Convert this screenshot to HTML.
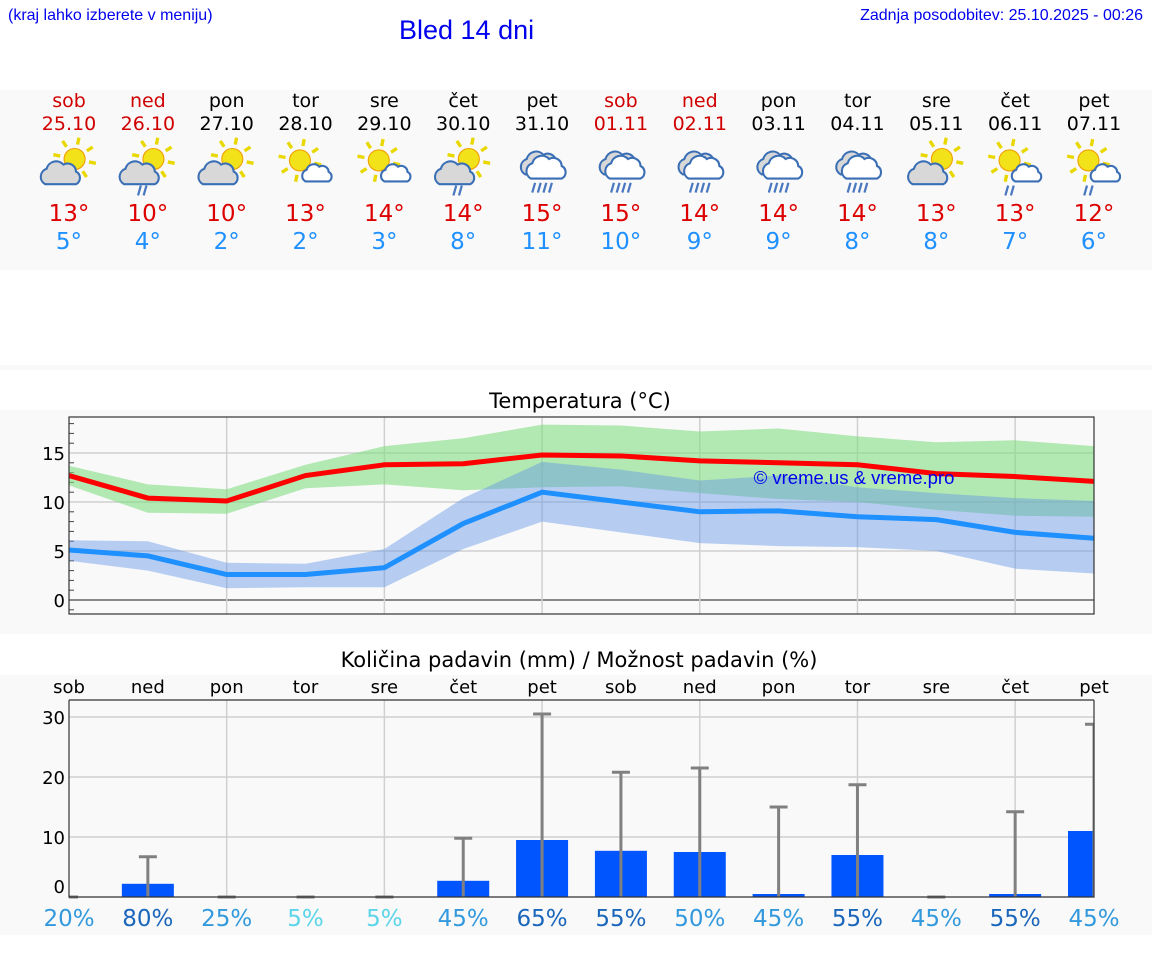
<!DOCTYPE html>
<html><head><meta charset="utf-8">
<style>
body{margin:0;width:1152px;height:975px;background:#fff;font-family:"DejaVu Sans","Liberation Sans",sans-serif;overflow:hidden;position:relative}
.abs{position:absolute}
</style></head>
<body>
<div class="abs" style="left:8px;top:7px;font:16px 'Liberation Sans',sans-serif;color:#0000ee">(kraj lahko izberete v meniju)</div>
<div class="abs" style="left:399px;top:15px;font:27px 'Liberation Sans',sans-serif;color:#0000ee">Bled 14 dni</div>
<div class="abs" style="right:9px;top:7px;font:16px 'Liberation Sans',sans-serif;color:#0000ee">Zadnja posodobitev: 25.10.2025 - 00:26</div>
<div class="abs" style="left:0;top:90px;width:1152px;height:180px;background:#f9f9f9"></div>
<div class="abs" style="left:0;top:365px;width:1152px;height:5px;background:#f9f9f9"></div>
<div class="abs" style="left:0;top:410px;width:1152px;height:224px;background:#f9f9f9"></div>
<div class="abs" style="left:0;top:675px;width:1152px;height:260px;background:#f9f9f9"></div>
<svg id="svg" class="abs" style="left:0;top:0" width="1152" height="975"></svg>
<script>
const days=['sob','ned','pon','tor','sre','čet','pet','sob','ned','pon','tor','sre','čet','pet'];
const dates=['25.10','26.10','27.10','28.10','29.10','30.10','31.10','01.11','02.11','03.11','04.11','05.11','06.11','07.11'];
const weekend=[1,1,0,0,0,0,0,1,1,0,0,0,0,0];
const icons=['sc','scr','sc','ss','ss','scr','rain','rain','rain','rain','rain','sc','ssr','ssr'];
const maxT=[13,10,10,13,14,14,15,15,14,14,14,13,13,12];
const minT=[5,4,2,2,3,8,11,10,9,9,8,8,7,6];
const maxLine=[12.7,10.4,10.1,12.7,13.8,13.9,14.8,14.7,14.2,14.0,13.8,12.9,12.6,12.1];
const maxHi=[13.7,11.8,11.3,13.8,15.7,16.5,17.9,17.8,17.2,17.5,16.7,16.1,16.3,15.7];
const maxLo=[11.7,8.9,8.8,11.4,11.8,11.2,11.5,11.6,10.9,10.3,10.0,9.2,8.6,8.5];
const minLine=[5.1,4.5,2.6,2.6,3.3,7.8,11.0,10.0,9.0,9.1,8.5,8.2,6.9,6.3];
const minHi=[6.1,6.0,3.8,3.7,5.2,10.4,14.1,13.3,12.2,12.7,11.5,10.9,10.4,10.1];
const minLo=[4.0,3.0,1.2,1.3,1.3,5.2,8.0,6.9,5.8,5.5,5.4,5.0,3.2,2.7];
const tempTicks=[0,5,10,15];
const precip=[0,2.2,0,0,0,2.7,9.5,7.7,7.5,0.5,7.0,0,0.5,11];
const precipHi=[0,6.7,0,0,0,9.8,30.5,20.8,21.5,15,18.7,0,14.2,28.8];
const chance=[20,80,25,5,5,45,65,55,50,45,55,45,55,45];
const precipTicks=[0,10,20,30];

const NS='http://www.w3.org/2000/svg';
const svg=document.getElementById('svg');
function mk(tag,attrs,parent){const e=document.createElementNS(NS,tag);for(const k in attrs)e.setAttribute(k,attrs[k]);(parent||svg).appendChild(e);return e;}
const X0=69,X1=1094;
const xi=i=>X0+i*(X1-X0)/13;
const ty=v=>600-v*9.8;
const py=v=>897-v*6;

days.forEach((d,i)=>{
  const c=weekend[i]?'#d00000':'#000';
  let t=mk('text',{x:xi(i),y:107,'text-anchor':'middle','font-size':19,fill:c});t.textContent=d;
  
  t=mk('text',{x:xi(i),y:130,'text-anchor':'middle','font-size':19,fill:c});t.textContent=dates[i];
  
  t=mk('text',{x:xi(i),y:221,'text-anchor':'middle','font-size':23,fill:'#dd0000'});t.textContent=maxT[i]+'°';
  
  t=mk('text',{x:xi(i),y:249,'text-anchor':'middle','font-size':23,fill:'#1e90ff'});t.textContent=minT[i]+'°';
  
  const g=mk('g',{transform:`translate(${xi(i)},166) scale(1.4)`});
  
  drawIcon(g,icons[i]);
});
function sun(g,cx,cy,r){
  for(let k=0;k<8;k++){const a=k*Math.PI/4+0.2;mk('line',{x1:cx+Math.cos(a)*(r+3),y1:cy+Math.sin(a)*(r+3),x2:cx+Math.cos(a)*(r+8),y2:cy+Math.sin(a)*(r+8),stroke:'#e8d800','stroke-width':2.4},g);}
  mk('circle',{cx,cy,r,fill:'#f2e21a',stroke:'#f0a000','stroke-width':0.8},g);
}
function cloud(g,dx,dy,s,fill){
  mk('path',{d:`M${dx-12*s},${dy+8*s} a${6*s},${6*s} 0 0 1 ${1*s},${-11*s} a${7*s},${7*s} 0 0 1 ${12*s},${-3*s} a${6*s},${6*s} 0 0 1 ${9*s},${5*s} a${5*s},${5*s} 0 0 1 ${0},${9*s} z`,fill:fill,stroke:'#3a6fb5','stroke-width':1.5},g);
}
function rain(g,n,y){for(let k=0;k<n;k++){const x=-6+k*4;mk('line',{x1:x+1,y1:y,x2:x-1,y2:y+7,stroke:'#4a78c0','stroke-width':1.6},g);}}
function drawIcon(g,t){
  if(t==='sc'||t==='scr'){sun(g,4,-5,7.5);cloud(g,-5,5,1.0,'#d8d8d8');if(t==='scr')rain(g,2,14);}
  else if(t==='ss'||t==='ssr'){sun(g,-4,-4,7.5);cloud(g,9,5,0.75,'#ffffff');if(t==='ssr')rain(g,2,14);}
  else{cloud(g,0,-2,1.0,'#d8d8d8');cloud(g,4,1,1.0,'#ffffff');rain(g,4,12);}
}

let t=mk('text',{x:580,y:408,'text-anchor':'middle','font-size':21,fill:'#000'});t.textContent='Temperatura (°C)';

mk('rect',{x:X0,y:417,width:X1-X0,height:197,fill:'#f9f9f9'});
tempTicks.forEach(v=>{
  const l=mk('line',{x1:X0,x2:X1,y1:ty(v),y2:ty(v),stroke:v===0?'#444':'#d0d0d0','stroke-width':v===0?1.2:1.5});
  
  const tx=mk('text',{x:X0-4,y:ty(v)+7,'text-anchor':'end','font-size':18,fill:'#000'});tx.textContent=v;
  
});
for(let v=-1;v<=18;v++){if(v%5)mk('line',{x1:X0,x2:X0+5,y1:ty(v),y2:ty(v),stroke:'#444','stroke-width':1});}
for(let i=2;i<14;i+=2)mk('line',{x1:xi(i),x2:xi(i),y1:417,y2:614,stroke:'#d0d0d0','stroke-width':1.5});
function band(hi,lo,col){const pts=hi.map((v,i)=>xi(i)+','+ty(v)).concat(lo.map((v,i)=>xi(i)+','+ty(v)).reverse());return mk('polygon',{points:pts.join(' '),fill:col});}
let b=band(maxHi,maxLo,'rgba(130,220,130,0.6)');
b=band(minHi,minLo,'rgba(100,150,230,0.45)');
let ln=mk('polyline',{points:maxLine.map((v,i)=>xi(i)+','+ty(v)).join(' '),fill:'none',stroke:'#ff0000','stroke-width':5});

ln=mk('polyline',{points:minLine.map((v,i)=>xi(i)+','+ty(v)).join(' '),fill:'none',stroke:'#1e90ff','stroke-width':5});

t=mk('text',{x:854,y:484,'text-anchor':'middle','font-size':18.5,fill:'#0000ee','font-family':'Liberation Sans'});t.textContent='© vreme.us & vreme.pro';

mk('rect',{x:X0,y:417,width:X1-X0,height:197,fill:'none',stroke:'#333','stroke-width':1.2});

t=mk('text',{x:579,y:667,'text-anchor':'middle','font-size':21,fill:'#000'});t.textContent='Količina padavin (mm) / Možnost padavin (%)';

days.forEach((d,i)=>{const tx=mk('text',{x:xi(i),y:693,'text-anchor':'middle','font-size':18,fill:'#000'});tx.textContent=d;
  });
mk('rect',{x:X0,y:700,width:X1-X0,height:197,fill:'#f9f9f9'});
precipTicks.forEach(v=>{
  if(v>0){const l=mk('line',{x1:X0,x2:X1,y1:py(v),y2:py(v),stroke:'#d0d0d0','stroke-width':1.5});
  }
  const tx=mk('text',{x:X0-4,y:py(v)+(v===0?-4:7),'text-anchor':'end','font-size':18,fill:'#000'});tx.textContent=v;
  
});
for(let i=2;i<14;i+=2)mk('line',{x1:xi(i),x2:xi(i),y1:700,y2:897,stroke:'#d0d0d0','stroke-width':1.5});
mk('clipPath',{id:'pc'});document.getElementById('pc').appendChild(document.createElementNS(NS,'rect'));
const cr=document.querySelector('#pc rect');cr.setAttribute('x',X0);cr.setAttribute('y',690);cr.setAttribute('width',X1-X0);cr.setAttribute('height',210);
const pg=mk('g',{'clip-path':'url(#pc)'});
precip.forEach((v,i)=>{
  if(v>0){const r=mk('rect',{x:xi(i)-26,y:py(v),width:52,height:py(0)-py(v),fill:'#0055ff'},pg);
  }
  const e=mk('line',{x1:xi(i),x2:xi(i),y1:py(0),y2:py(precipHi[i]),stroke:'#808080','stroke-width':3},pg);
  
  mk('line',{x1:xi(i)-9,x2:xi(i)+9,y1:py(precipHi[i]),y2:py(precipHi[i]),stroke:'#808080','stroke-width':3},pg);
});
mk('polyline',{points:`${X0},700 ${X0},897 ${X1},897 ${X1},700`,fill:'none',stroke:'#333','stroke-width':1.2});
mk('line',{x1:X0,x2:X1,y1:700,y2:700,stroke:'#333','stroke-width':1.2});
chance.forEach((c,i)=>{
  const col=c<=10?'#5bd5e8':(c<=50?'#3399dd':'#1a66bb');
  const tx=mk('text',{x:xi(i),y:926,'text-anchor':'middle','font-size':23,fill:col});tx.textContent=c+'%';
  
});
</script>
</body></html>
